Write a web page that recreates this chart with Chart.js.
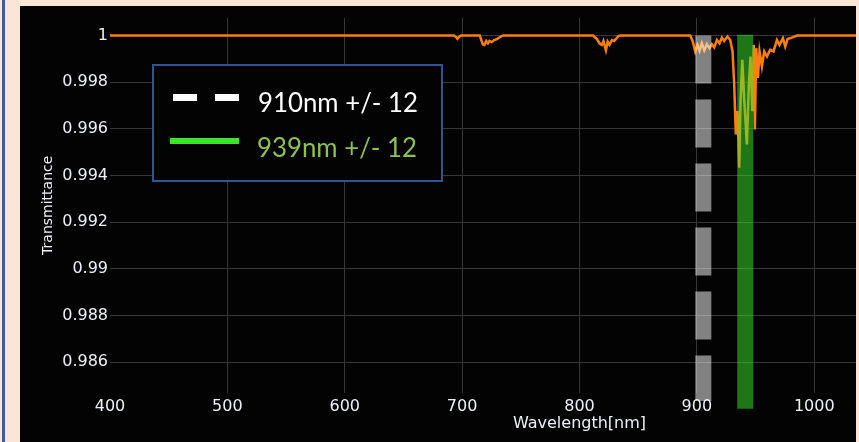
<!DOCTYPE html>
<html>
<head>
<meta charset="utf-8">
<script src="https://cdn.jsdelivr.net/npm/chart.js@4.4.1/dist/chart.umd.min.js"></script>
<style>
  html, body { margin: 0; padding: 0; width: 859px; height: 442px; overflow: hidden; background: #fbe5d6; }
  #edge { position: absolute; left: 2px; top: 0; width: 3px; height: 442px; background: #3b5c9e; }
  #panel { position: absolute; left: 20px; top: 6px; width: 836px; height: 436px; background: #030303; overflow: hidden; }
  #chart { position: absolute; left: 0; top: 0; }
</style>
</head>
<body>
<div id="edge"></div>
<div id="panel"><canvas id="chart" width="1060" height="436"></canvas></div>
<script>
// Atmospheric transmittance spectrum
const wavelengths = [
  400, 693, 695, 696, 697.5, 699,
  715, 717.6, 719, 720.5, 722, 723.3, 725.3, 727.3, 729.6, 733.8, 735,
  811.5, 814.7, 817, 819, 820.4, 822.5, 824, 825.6, 827.6, 829.6, 833.2, 835,
  894.3, 896.6, 898.6, 900.5, 902.3, 904.2, 906.3, 908.5, 910.8, 912.8, 914.8,
  917.1, 919.3, 921.3, 923.3, 926.1, 928.4, 930.4, 931.8, 933.2, 934.6, 936.1,
  937.2, 938.7, 940.4, 942.6, 944.3, 945.7, 947.2, 948.5, 949.4, 950.6, 952,
  953.4, 955.4, 957.4, 959.7, 962.5, 965.3, 968.2, 970.4, 973.3, 975.3, 977.3,
  981, 985.3, 1200
];
const transmittance = [
  1, 1, 0.99993, 0.99986, 0.99995, 1,
  1, 0.99963, 0.9996, 0.99977, 0.99967, 0.99977, 0.99972, 0.99981, 0.99985, 0.99998, 1,
  1, 0.99986, 0.99967, 0.9996, 0.99977, 0.99937, 0.99974, 0.9996, 0.99981, 0.99977, 0.99998, 1,
  1, 0.99974, 0.99932, 0.9996, 0.99935, 0.99967, 0.99937, 0.99963, 0.99946, 0.99963, 0.99949,
  0.99981, 0.99967, 0.99991, 0.99977, 0.99996, 0.99981, 0.99932, 0.9979, 0.99576, 0.99676, 0.99434,
  0.99718, 0.99896, 0.99718, 0.99533, 0.9979, 0.9991, 0.99676, 0.9996, 0.99597, 0.99946, 0.99818,
  0.99932, 0.99868, 0.99932, 0.9991, 0.99939, 0.99932, 0.99981, 0.9996, 0.99989, 0.99953, 0.99985,
  0.99991, 1, 1
];

// Axis ticks
const xTicks = [400, 500, 600, 700, 800, 900, 1000, 1100, 1200];
const yTicks = [0.986, 0.988, 0.99, 0.992, 0.994, 0.996, 0.998, 1];

// Filter pass bands (centre wavelength, top and bottom of the marker)
const filterLabels = ['910nm +/- 12', '939nm +/- 12'];
const filterCenters = [905.5, 941.2];
const filterTop = [1.0, 1.00004];
const filterBottom = [0.98434, 0.984];

const spectrum = wavelengths.map((w, i) => ({ x: w, y: transmittance[i] }));
const bandLine = i => [
  { x: filterCenters[i], y: filterTop[i] },
  { x: filterCenters[i], y: filterBottom[i] }
];

// Boxed legend for the two filters
const filterLegend = {
  id: 'filterLegend',
  afterDraw(chart) {
    const ctx = chart.ctx;
    ctx.save();
    ctx.fillStyle = '#030303';
    ctx.fillRect(133, 59, 289, 116);
    ctx.strokeStyle = '#2f5597';
    ctx.lineWidth = 2;
    ctx.strokeRect(133, 59, 289, 116);

    // dashed white marker
    ctx.fillStyle = '#ffffff';
    ctx.fillRect(153, 88, 24, 7);
    ctx.fillRect(195, 88, 24, 7);
    // solid green marker
    ctx.fillStyle = '#3ae62b';
    ctx.fillRect(150, 132, 69, 6);

    const rows = [
      { text: chart.data.datasets[1].label, color: '#ffffff', x: 238, y: 106 },
      { text: chart.data.datasets[2].label, color: '#8cc24e', x: 237, y: 151 }
    ];
    ctx.font = '27px Lato';
    ctx.textBaseline = 'alphabetic';
    ctx.textAlign = 'left';
    rows.forEach(r => {
      const w = ctx.measureText(r.text).width;
      ctx.save();
      ctx.translate(r.x, r.y);
      ctx.scale(160 / w, 1);
      ctx.fillStyle = r.color;
      ctx.fillText(r.text, 0, 0);
      ctx.restore();
    });
    ctx.restore();
  }
};

const gridColor = '#363636';
const tickColor = '#eef0f8';

new Chart(document.getElementById('chart'), {
  type: 'line',
  data: {
    datasets: [
      {
        label: 'Transmittance',
        data: spectrum,
        borderColor: '#ff7f0e',
        borderWidth: 2.5,
        pointRadius: 0,
        tension: 0,
        order: 3
      },
      {
        label: filterLabels[0],
        data: bandLine(0),
        borderColor: 'rgba(255,255,255,0.5)',
        borderWidth: 16,
        borderDash: [48, 16],
        borderCapStyle: 'butt',
        pointRadius: 0,
        clip: false,
        order: 2
      },
      {
        label: filterLabels[1],
        data: bandLine(1),
        borderColor: 'rgba(56,236,46,0.5)',
        borderWidth: 16,
        borderCapStyle: 'butt',
        pointRadius: 0,
        clip: false,
        order: 1
      }
    ]
  },
  options: {
    responsive: false,
    animation: false,
    devicePixelRatio: 1,
    layout: { padding: { top: 10, right: 31, left: 0, bottom: 0 } },
    plugins: { legend: { display: false }, tooltip: { enabled: false } },
    scales: {
      x: {
        type: 'linear',
        min: 400,
        max: 1200,
        afterBuildTicks: s => { s.ticks = xTicks.map(v => ({ value: v })); },
        afterFit: s => { s.height = 49; },
        grid: {
          color: c => (c.tick && c.tick.value === 400 ? 'transparent' : gridColor),
          lineWidth: 1,
          drawTicks: false
        },
        border: { display: false },
        ticks: {
          color: tickColor,
          font: { family: 'DejaVu Sans', size: 16 },
          padding: 4,
          maxRotation: 0,
          autoSkip: false,
          callback: v => String(v)
        },
        title: {
          display: true,
          text: 'Wavelength[nm]',
          color: tickColor,
          font: { family: 'DejaVu Sans', size: 16 },
          padding: { top: 0, bottom: 9 }
        }
      },
      y: {
        type: 'linear',
        min: 0.98468,
        max: 1.00077,
        afterBuildTicks: s => { s.ticks = yTicks.map(v => ({ value: v })); },
        afterFit: s => { s.width = 90; },
        grid: { color: gridColor, lineWidth: 1, drawTicks: false },
        border: { display: false },
        ticks: {
          color: tickColor,
          font: { family: 'DejaVu Sans', size: 16 },
          padding: 2,
          callback: v => String(+Number(v).toFixed(3))
        },
        title: {
          display: true,
          text: 'Transmittance',
          color: tickColor,
          font: { family: 'DejaVu Sans', size: 14 },
          padding: { top: 20, bottom: 0 }
        }
      }
    }
  },
  plugins: [filterLegend]
});
</script>
</body>
</html>
